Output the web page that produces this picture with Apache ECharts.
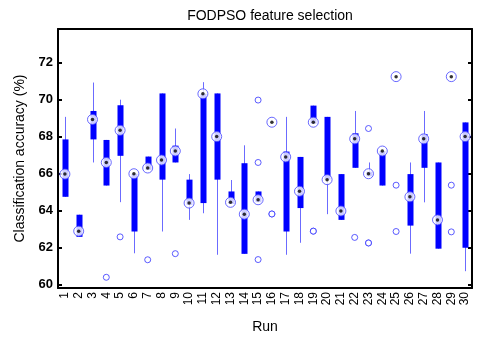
<!DOCTYPE html>
<html>
<head>
<meta charset="utf-8">
<script src="https://cdn.jsdelivr.net/npm/echarts@6/dist/echarts.min.js"></script>
<style>html,body{margin:0;padding:0;background:#fff}#c{width:477px;height:339px}</style>
</head>
<body>
<div id="c"></div>
<script>
var runs = ['1','2','3','4','5','6','7','8','9','10','11','12','13','14','15','16','17','18','19','20','21','22','23','24','25','26','27','28','29','30'];
var whiskerLow  = [64.74,62.57,66.60,65.35,64.45,61.68,66.20,62.86,66.60,63.49,63.85,61.60,64.35,61.65,64.45,68.78,61.60,62.25,68.70,63.80,63.49,66.31,65.85,65.35,71.25,61.66,64.44,61.93,71.25,60.71];
var q1          = [64.74,62.57,67.85,65.35,66.96,62.86,66.20,65.67,66.60,64.30,64.40,65.67,64.35,61.65,64.45,68.78,62.86,64.13,68.70,65.67,63.49,66.31,65.85,65.35,71.25,63.18,66.31,61.93,71.25,61.98];
var median      = [65.97,62.88,68.93,66.60,68.34,65.99,66.30,66.73,67.22,64.40,70.32,68.00,64.44,63.80,64.58,68.78,66.90,65.04,68.78,65.67,63.97,67.88,65.99,67.22,71.25,64.74,67.88,63.49,71.25,68.00];
var q3          = [67.85,63.77,69.39,67.82,69.70,65.99,66.92,70.34,67.51,65.67,70.32,70.34,65.03,66.56,65.03,68.78,67.19,66.90,69.68,69.07,65.97,68.18,66.10,67.22,71.25,65.97,68.14,66.60,71.25,68.77];
var whiskerHigh = [69.07,63.77,70.93,67.82,70.00,65.99,66.92,70.34,68.44,65.97,70.95,70.34,65.65,67.53,65.03,68.78,69.07,66.90,69.68,69.07,65.97,69.39,66.60,67.22,71.25,66.60,69.39,66.60,71.25,68.77];
var outliers = [[],[],[],[60.38],[62.57],[],[61.33],[],[61.66],[],[],[],[],[],[69.98,66.60,61.34],[63.81,63.81],[],[],[62.88,62.88],[],[],[62.54],[68.44,62.24,62.24],[],[65.37,62.86],[],[],[],[65.37,62.84],[]];
var yTicks = [60,62,64,66,68,70,72];

var boxData = runs.map(function(r,i){return [i, whiskerLow[i], q1[i], q3[i], whiskerHigh[i]];});
var medData = runs.map(function(r,i){return [i, median[i]];});
var outData = [];
outliers.forEach(function(list,i){list.forEach(function(v){outData.push([i,v]);});});

var chart = echarts.init(document.getElementById('c'));
var F = 'Liberation Sans, Arial, sans-serif';
chart.setOption({
  animation:false,
  title:{text:'FODPSO feature selection',left:265,textAlign:'center',top:4,
    textStyle:{fontFamily:F,fontSize:14,fontWeight:'normal',color:'#000'}},
  grid:{left:58,right:5,top:29,bottom:48},
  xAxis:[{type:'category',data:runs,boundaryGap:true,
    name:'Run',nameLocation:'middle',nameGap:32,
    nameTextStyle:{fontFamily:F,fontSize:14,color:'#000'},
    axisLine:{lineStyle:{color:'#000',width:2}},
    axisTick:{show:false},
    axisLabel:{rotate:90,fontFamily:F,fontSize:12,color:'#000',margin:4,interval:0},
    splitLine:{show:false}},
   {type:'category',data:runs,boundaryGap:true,position:'top',
    axisLine:{show:true,lineStyle:{color:'#000',width:2}},
    axisTick:{show:false},axisLabel:{show:false},splitLine:{show:false}}],
  yAxis:[{type:'value',min:59.8,max:73.83,
    name:'Classification accuracy (%)',nameLocation:'middle',nameGap:28,
    nameTextStyle:{fontFamily:F,fontSize:14,color:'#000'},
    axisLine:{show:true,lineStyle:{color:'#000',width:2}},
    axisTick:{show:true,inside:true,length:4,customValues:yTicks,lineStyle:{color:'#000',width:2}},
    axisLabel:{customValues:yTicks,fontFamily:F,fontSize:13,fontWeight:'bold',color:'#000',margin:5},
    splitLine:{show:false}},
   {type:'value',min:59.8,max:73.83,position:'right',
    axisLine:{show:true,lineStyle:{color:'#000',width:2}},
    axisTick:{show:true,inside:true,length:4,customValues:yTicks,lineStyle:{color:'#000',width:2}},
    axisLabel:{show:false},splitLine:{show:false}}],
  series:[
    {type:'custom',data:boxData,encode:{x:0,y:[1,2,3,4]},
     renderItem:function(params,api){
       var x=api.value(0);
       var pLow=api.coord([x,api.value(1)]);
       var pQ1=api.coord([x,api.value(2)]);
       var pQ3=api.coord([x,api.value(3)]);
       var pHigh=api.coord([x,api.value(4)]);
       var cx=Math.round(pLow[0])+0.5;
       return {type:'group',children:[
         {type:'line',shape:{x1:cx,y1:pLow[1],x2:cx,y2:pHigh[1]},style:{stroke:'#6b6bff',lineWidth:1}},
         {type:'rect',shape:{x:cx-3,y:pQ3[1],width:6,height:Math.max(pQ1[1]-pQ3[1],0)},style:{fill:'#0000ff'}}
       ]};
     },z:2},
    {type:'scatter',data:outData,symbol:'circle',symbolSize:6,
     itemStyle:{color:'#fff',borderColor:'#3333ff',borderWidth:1},z:3},
    {type:'scatter',data:medData,symbol:'circle',symbolSize:10,
     itemStyle:{color:'#fff',borderColor:'#4444ff',borderWidth:1},z:4},
    {type:'scatter',data:medData,symbol:'circle',symbolSize:3.5,
     itemStyle:{color:'#000'},z:5}
  ]
});
</script>
</body>
</html>
